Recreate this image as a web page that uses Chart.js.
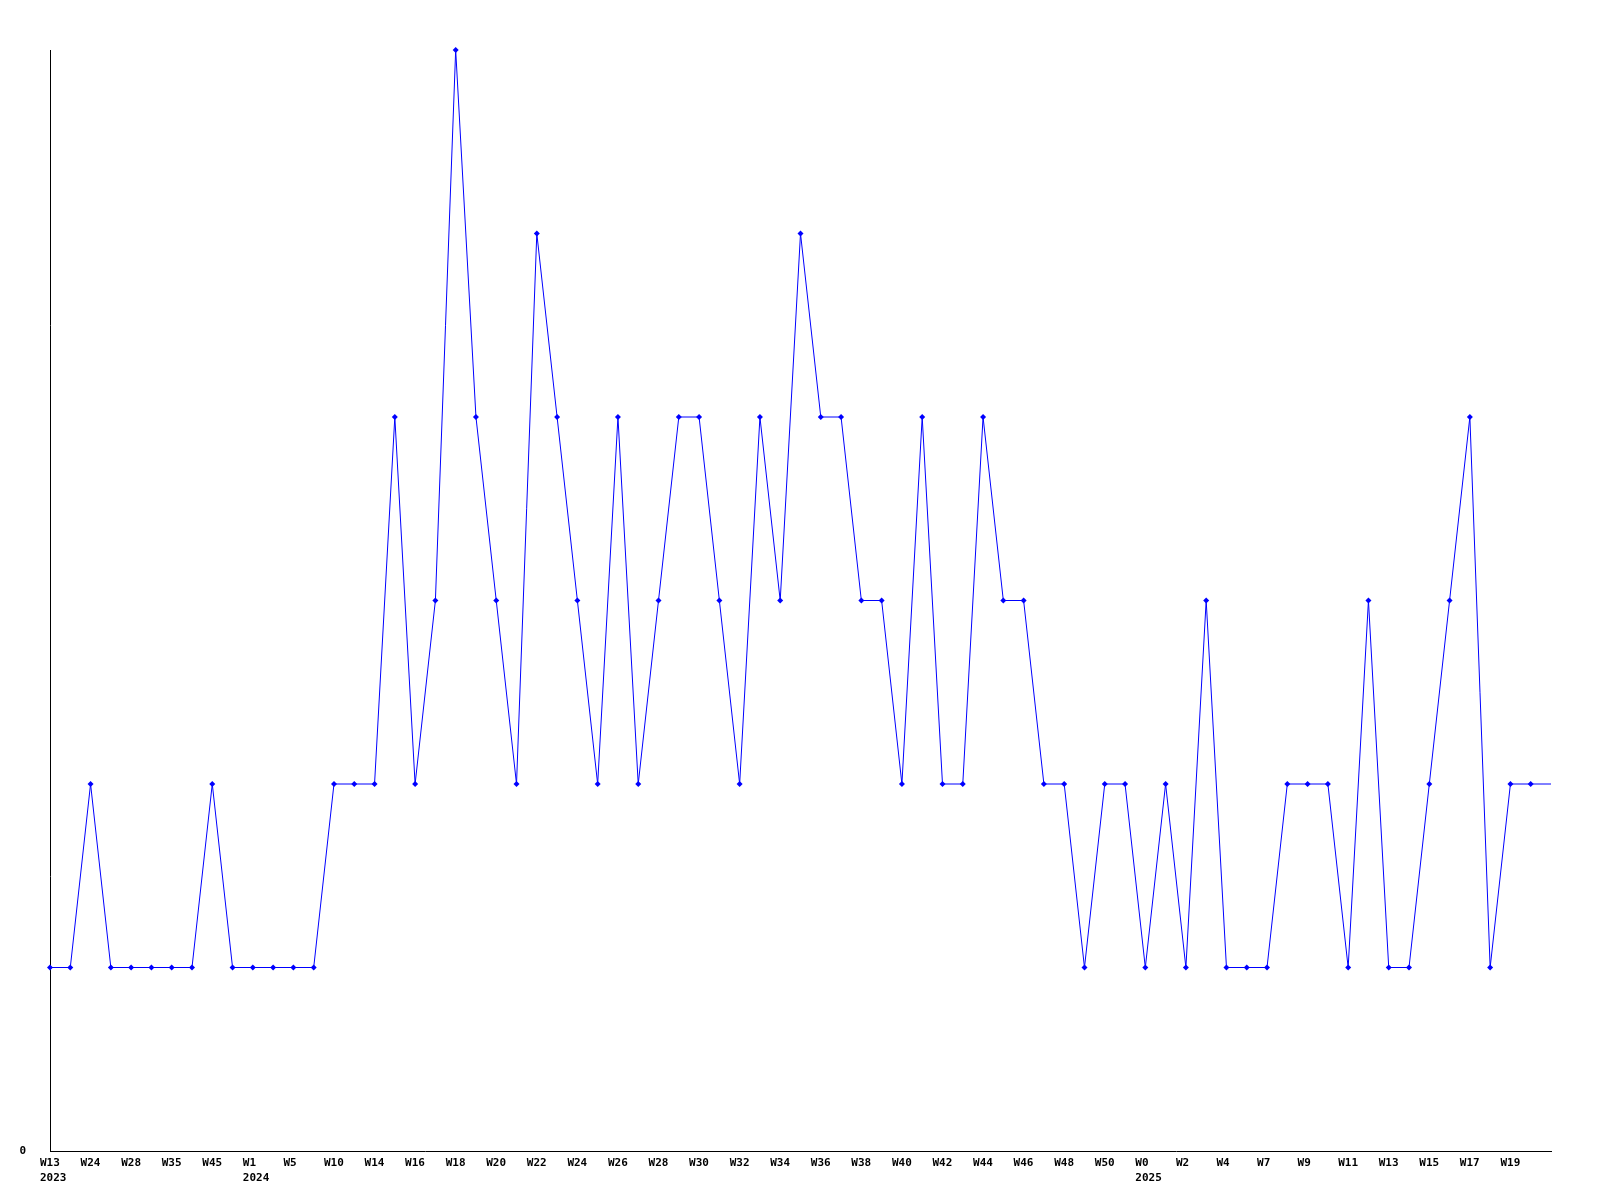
<!DOCTYPE html>
<html>
<head>
<meta charset="utf-8">
<script src="https://cdn.jsdelivr.net/npm/chart.js@4/dist/chart.umd.min.js"></script>
<style>
  html, body { margin: 0; padding: 0; background: #fff; }
  #wrap { width: 1600px; height: 1200px; }
</style>
</head>
<body>
<div id="wrap"><canvas id="myChart" width="1600" height="1200"></canvas></div>
<script>
// week labels (hidden ones in between are guesses, only every other one is printed)
const weeks = [
  'W13','W18','W24','W26','W28','W31','W35','W40','W45','W50',
  'W1','W3','W5','W8','W10','W12','W14','W15','W16','W17',
  'W18','W19','W20','W21','W22','W23','W24','W25','W26','W27',
  'W28','W29','W30','W31','W32','W33','W34','W35','W36','W37',
  'W38','W39','W40','W41','W42','W43','W44','W45','W46','W47',
  'W48','W49','W50','W51','W0','W1','W2','W3','W4','W6',
  'W7','W8','W9','W10','W11','W12','W13','W14','W15','W16',
  'W17','W18','W19','W20','W21'
];
const years = [
  2023,2023,2023,2023,2023,2023,2023,2023,2023,2023,
  2024,2024,2024,2024,2024,2024,2024,2024,2024,2024,
  2024,2024,2024,2024,2024,2024,2024,2024,2024,2024,
  2024,2024,2024,2024,2024,2024,2024,2024,2024,2024,
  2024,2024,2024,2024,2024,2024,2024,2024,2024,2024,
  2024,2024,2024,2024,2025,2025,2025,2025,2025,2025,
  2025,2025,2025,2025,2025,2025,2025,2025,2025,2025,
  2025,2025,2025,2025,2025
];
const counts = [
  1,1,2,1,1,1,1,1,2,1,
  1,1,1,1,2,2,2,4,2,3,
  6,4,3,2,5,4,3,2,4,2,
  3,4,4,3,2,4,3,5,4,4,
  3,3,2,4,2,2,4,3,3,2,
  2,1,2,2,1,2,1,3,1,1,
  1,2,2,2,1,3,1,1,2,3,
  4,1,2,2,2
];

const font = { family: "'DejaVu Sans Mono', monospace", size: 11, weight: 'bold', lineHeight: 15 / 11 };

new Chart(document.getElementById('myChart').getContext('2d'), {
  type: 'line',
  data: {
    labels: weeks,
    datasets: [{
      data: counts,
      borderColor: '#0000ff',
      backgroundColor: '#0000ff',
      borderWidth: 1,
      tension: 0,
      fill: false,
      clip: false,
      pointStyle: 'rectRot',
      pointRadius: ctx => ctx.dataIndex === counts.length - 1 ? 0 : 3,
      pointBorderWidth: 0
    }]
  },
  options: {
    responsive: false,
    animation: false,
    events: [],
    layout: { padding: { left: 0, right: 49, top: 50, bottom: 0 } },
    plugins: { legend: { display: false }, tooltip: { enabled: false } },
    scales: {
      x: {
        offset: false,
        grid: { display: false, drawTicks: false },
        border: { display: true, color: '#000', width: 1 },
        ticks: {
          autoSkip: false,
          maxRotation: 0,
          minRotation: 0,
          align: 'start',
          labelOffset: -10,
          padding: 5,
          color: '#000',
          font: font,
          callback: (v, i) => {
            if (i % 2 !== 0 || i >= weeks.length - 1) return '';
            if (i === 0 || years[i] !== years[i - 1]) return [weeks[i], String(years[i])];
            return weeks[i];
          }
        },
        afterFit: s => { s.height = 49; s.paddingLeft = 0; s.paddingRight = 0; }
      },
      y: {
        min: 0,
        max: 6,
        grid: { display: false, drawTicks: false },
        border: { display: true, color: '#000', width: 1 },
        ticks: {
          stepSize: 6,
          padding: 24,
          color: '#000',
          font: font,
          callback: v => v === 0 ? '0' : ''
        },
        afterFit: s => { s.width = 50; s.paddingTop = 0; s.paddingBottom = 0; }
      }
    }
  }
});
</script>
</body>
</html>
